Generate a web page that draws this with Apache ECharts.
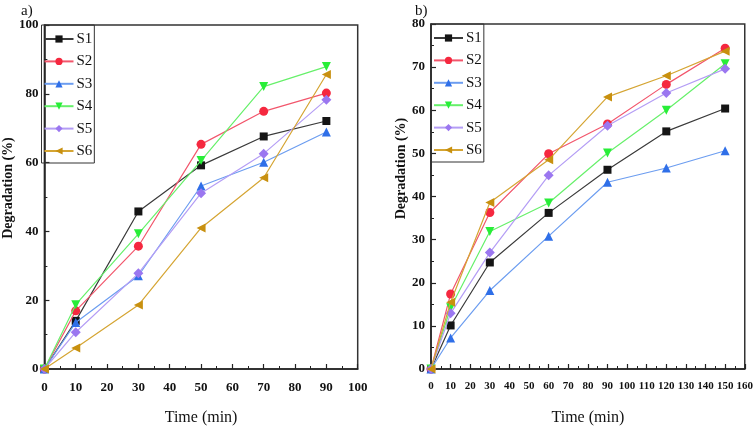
<!DOCTYPE html>
<html>
<head>
<meta charset="utf-8">
<script src="https://cdn.jsdelivr.net/npm/echarts@6/dist/echarts.min.js"></script>
<style>html,body{margin:0;padding:0;background:#fff;}#c{width:756px;height:431px;}</style>
</head>
<body>
<div id="c"></div>
<script>
const seriesNames = ['S1', 'S2', 'S3', 'S4', 'S5', 'S6'];
const timeA = [0, 10, 30, 50, 70, 90];
const timeB = [0, 10, 30, 60, 90, 120, 150];
const a_S1 = [0, 14, 45.8, 59.2, 67.6, 72.1];
const a_S2 = [0, 16.9, 35.7, 65.3, 74.9, 80.2];
const a_S3 = [0, 13.5, 27.1, 53.2, 60.1, 68.9];
const a_S4 = [0, 18.7, 39.3, 60.6, 82.1, 87.9];
const a_S5 = [0, 10.7, 27.8, 51.1, 62.6, 78.3];
const a_S6 = [0, 6.1, 18.6, 41.0, 55.6, 85.6];
const b_S1 = [0, 10.1, 24.7, 36.2, 46.2, 55.1, 60.4];
const b_S2 = [0, 17.4, 36.3, 49.9, 56.8, 66.0, 74.4];
const b_S3 = [0, 7.2, 18.2, 30.8, 43.3, 46.6, 50.6];
const b_S4 = [0, 14.2, 31.9, 38.5, 50.1, 60.0, 70.8];
const b_S5 = [0, 12.9, 27.0, 44.9, 56.4, 64.0, 69.6];
const b_S6 = [0, 15.5, 38.6, 48.5, 63.1, 68.0, 73.7];
const ticksXA = {min: 0, max: 100, interval: 10};
const ticksYA = {min: 0, max: 100, interval: 20};
const ticksXB = {min: 0, max: 160, interval: 10};
const ticksYB = {min: 0, max: 80, interval: 10};

const dataA = [a_S1, a_S2, a_S3, a_S4, a_S5, a_S6];
const dataB = [b_S1, b_S2, b_S3, b_S4, b_S5, b_S6];

const markerColors = ['#151515', '#f5283f', '#2f6fe8', '#28ee38', '#9b77f0', '#c8900f'];
const lineColors = ['#3a3a3a', '#f2566c', '#6c9df0', '#66f06a', '#b49df5', '#d5a533'];
const symbols = ['rect', 'circle', 'triangle', 'triangle', 'diamond', 'triangle'];
const rotations = [0, 0, 0, 180, 0, 90];
const sizes = [8, 9, 9, 9, 10, 9];

const FONT = '"Liberation Serif", "DejaVu Serif", serif';

function xAxisCfg(gi, t, fs) {
  return {
    type: 'value', gridIndex: gi, min: t.min, max: t.max, interval: t.interval,
    name: 'Time (min)', nameLocation: 'middle', nameGap: 41,
    nameTextStyle: {fontFamily: FONT, fontSize: 16, color: '#111'},
    axisLine: {show: true, onZero: false, lineStyle: {color: '#222', width: 1.5}},
    axisTick: {show: true, inside: true, length: 5, lineStyle: {color: '#222', width: 1.2}},
    minorTick: {show: true, splitNumber: 2, length: 3, lineStyle: {color: '#222', width: 1}},
    axisLabel: {fontFamily: FONT, fontSize: fs, fontWeight: 'bold', color: '#111', margin: 12},
    splitLine: {show: false}
  };
}
function yAxisCfg(gi, t, gap, shift) {
  return {
    type: 'value', gridIndex: gi, min: t.min, max: t.max, interval: t.interval,
    name: 'Degradation (%)', nameLocation: 'middle', nameGap: gap,
    nameTextStyle: {fontFamily: FONT, fontSize: 14, fontWeight: 'bold', color: '#111', padding: [0, 0, 0, shift]},
    axisLine: {show: true, onZero: false, lineStyle: {color: '#222', width: 1.5}},
    axisTick: {show: true, inside: true, length: 5, lineStyle: {color: '#222', width: 1.2}},
    minorTick: {show: true, splitNumber: 2, length: 3, lineStyle: {color: '#222', width: 1}},
    axisLabel: {fontFamily: FONT, fontSize: 13, fontWeight: 'bold', color: '#111', margin: 6},
    splitLine: {show: false}
  };
}

const series = [];
function addSeries(gi, times, data) {
  data.forEach((vals, i) => {
    series.push({
      name: seriesNames[i], type: 'line', xAxisIndex: gi, yAxisIndex: gi,
      data: times.map((t, k) => [t, vals[k]]),
      symbol: symbols[i], symbolRotate: rotations[i], symbolSize: sizes[i],
      lineStyle: {color: lineColors[i], width: 1.2},
      itemStyle: {color: markerColors[i]},
      animation: false, z: 3 + i
    });
  });
}
addSeries(0, timeA, dataA);
addSeries(1, timeB, dataB);

function legendCfg(left, top) {
  return {
    orient: 'vertical', left: left, top: top,
    data: seriesNames,
    borderColor: '#333', borderWidth: 1, padding: [6.5, 2, 4.5, 2],
    itemGap: 7.4, itemWidth: 29, itemHeight: 9,
    textStyle: {fontFamily: FONT, fontSize: 15, color: '#111', padding: [0, 0, 0, -2]},
    selectedMode: false
  };
}

const chart = echarts.init(document.getElementById('c'), null, {renderer: 'canvas'});
chart.setOption({
  backgroundColor: '#fff',
  animation: false,
  title: [
    {text: 'a)', left: 16, top: -1, textStyle: {fontFamily: FONT, fontSize: 15, fontWeight: 'normal', color: '#111'}},
    {text: 'b)', left: 410, top: -1, textStyle: {fontFamily: FONT, fontSize: 15, fontWeight: 'normal', color: '#111'}}
  ],
  grid: [
    {left: 41.5, right: 398.3, top: 25, bottom: 58, show: true, borderColor: '#333', borderWidth: 1.5, backgroundColor: 'transparent'},
    {left: 431, right: 9.3, top: 24, bottom: 58.3, show: true, borderColor: '#333', borderWidth: 1.5, backgroundColor: 'transparent'}
  ],
  xAxis: [xAxisCfg(0, ticksXA, 13), xAxisCfg(1, ticksXB, 11)],
  yAxis: [yAxisCfg(0, ticksYA, 25, 18), yAxisCfg(1, ticksYB, 22, 56)],
  legend: [legendCfg(41.5, 25), legendCfg(431, 24)],
  series: series
});
</script>
</body>
</html>
